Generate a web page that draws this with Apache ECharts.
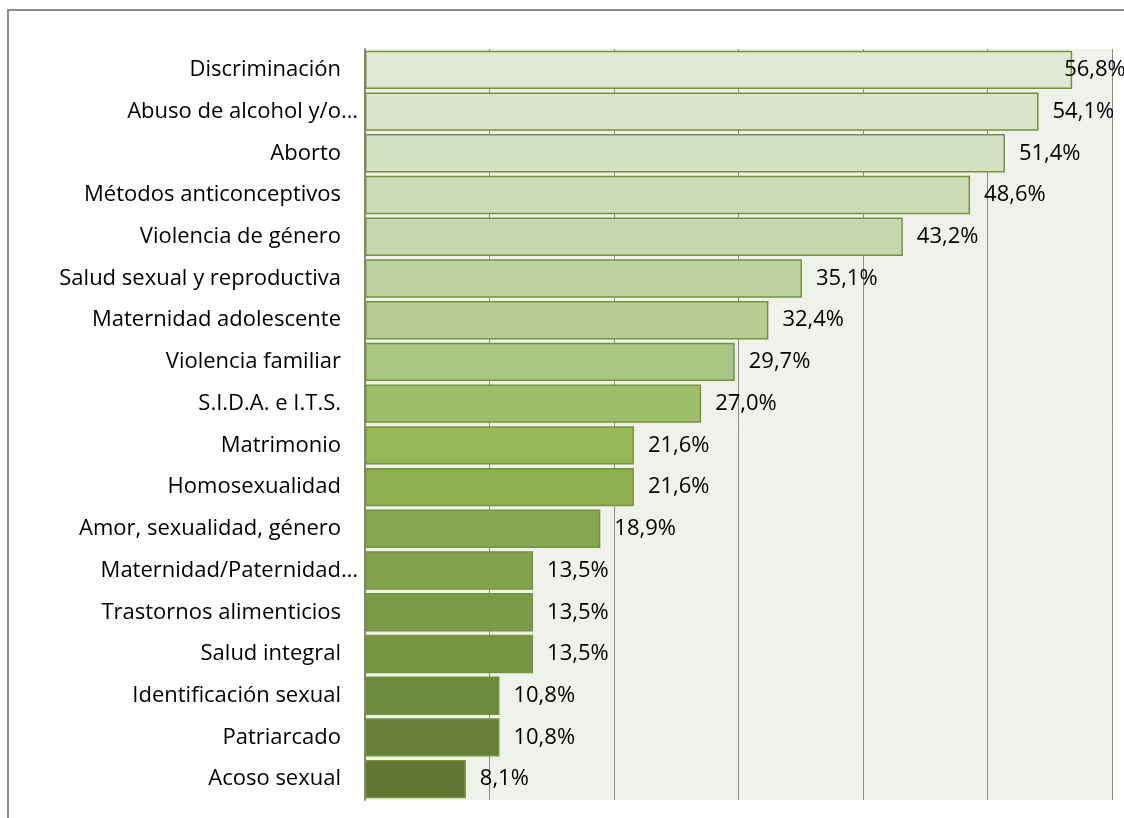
<!DOCTYPE html>
<html>
<head>
<meta charset="utf-8">
<script src="https://cdn.jsdelivr.net/npm/echarts@6/dist/echarts.min.js"></script>
<style>
  html, body { margin: 0; padding: 0; background: #fff; }
  #chart { width: 1124px; height: 818px; }
</style>
</head>
<body>
<div id="chart"></div>
<script>
// categories, top to bottom
var categories = [
    'Discriminación', 'Abuso de alcohol y/o…', 'Aborto', 'Métodos anticonceptivos',
    'Violencia de género', 'Salud sexual y reproductiva', 'Maternidad adolescente',
    'Violencia familiar', 'S.I.D.A. e I.T.S.', 'Matrimonio', 'Homosexualidad',
    'Amor, sexualidad, género', 'Maternidad/Paternidad…', 'Trastornos alimenticios',
    'Salud integral', 'Identificación sexual', 'Patriarcado', 'Acoso sexual'
];
var values = [56.8, 54.1, 51.4, 48.6, 43.2, 35.1, 32.4, 29.7, 27.0, 21.6, 21.6, 18.9, 13.5, 13.5, 13.5, 10.8, 10.8, 8.1];

// fill per bar, light to dark olive
var barColors = [
    '#E0E8D3', '#DBE5CC', '#D5E1C4', '#CDDBB9', '#C6D7AE', '#BED2A1',
    '#B6CC94', '#ABC585', '#A0BE69', '#97B757', '#90AF53', '#88A64F',
    '#83A04B', '#7D9A47', '#779443', '#6E893D', '#677F38', '#5F7433'
];

var font = '"Open Sans", Lato, sans-serif';
var fontSize = 22;

var chart = echarts.init(document.getElementById('chart'));

var seriesData = values.map(function (v, i) {
    var item = {
        value: v,
        itemStyle: { color: barColors[i] }
    };
    if (i === 0) {
        item.label = { offset: [-22, 0] };   // Excel pulls the first label back in
    }
    return item;
});

var option = {
    animation: false,
    backgroundColor: '#fff',
    graphic: [{
        type: 'rect',
        shape: { x: 8, y: 10, width: 1200, height: 900 },
        style: { fill: 'none', stroke: '#8C8C8C', lineWidth: 2 },
        silent: true
    }],
    grid: {
        left: 365,
        right: 12,
        top: 49,
        bottom: 18,
        show: true,
        backgroundColor: '#EFF2EA',
        borderWidth: 0
    },
    xAxis: {
        type: 'value',
        min: 0,
        max: 60,
        interval: 10,
        axisLine: { show: false },
        axisTick: { show: false },
        axisLabel: { show: false },
        splitLine: { lineStyle: { color: '#8C8C8C', width: 1 } }
    },
    yAxis: {
        type: 'category',
        inverse: true,
        data: categories,
        axisLine: { lineStyle: { color: '#868686', width: 2 } },
        axisTick: { length: 8, lineStyle: { color: '#868686', width: 2 } },
        axisLabel: {
            margin: 7,
            color: '#000',
            fontFamily: font,
            fontSize: fontSize,
            formatter: function (name) {
                // Excel's cut labels sit closer to the axis
                return name.slice(-1) === '…' ? '{e|' + name + '}' : '{n|' + name + '}';
            },
            rich: {
                n: { fontFamily: font, fontSize: fontSize, color: '#000', padding: [0, 17, 0, 0] },
                e: { fontFamily: font, fontSize: fontSize, color: '#000', padding: [0, 0, 0, 0] }
            }
        }
    },
    series: [{
        type: 'bar',
        data: seriesData,
        barCategoryGap: '8%',
        itemStyle: { borderColor: '#76923C', borderWidth: 1.5 },
        label: {
            show: true,
            position: 'right',
            distance: 14,
            color: '#000',
            fontFamily: font,
            fontSize: fontSize,
            formatter: function (p) {
                return p.value.toFixed(1).replace('.', ',') + '%';
            }
        }
    }]
};

chart.setOption(option);
</script>
</body>
</html>
